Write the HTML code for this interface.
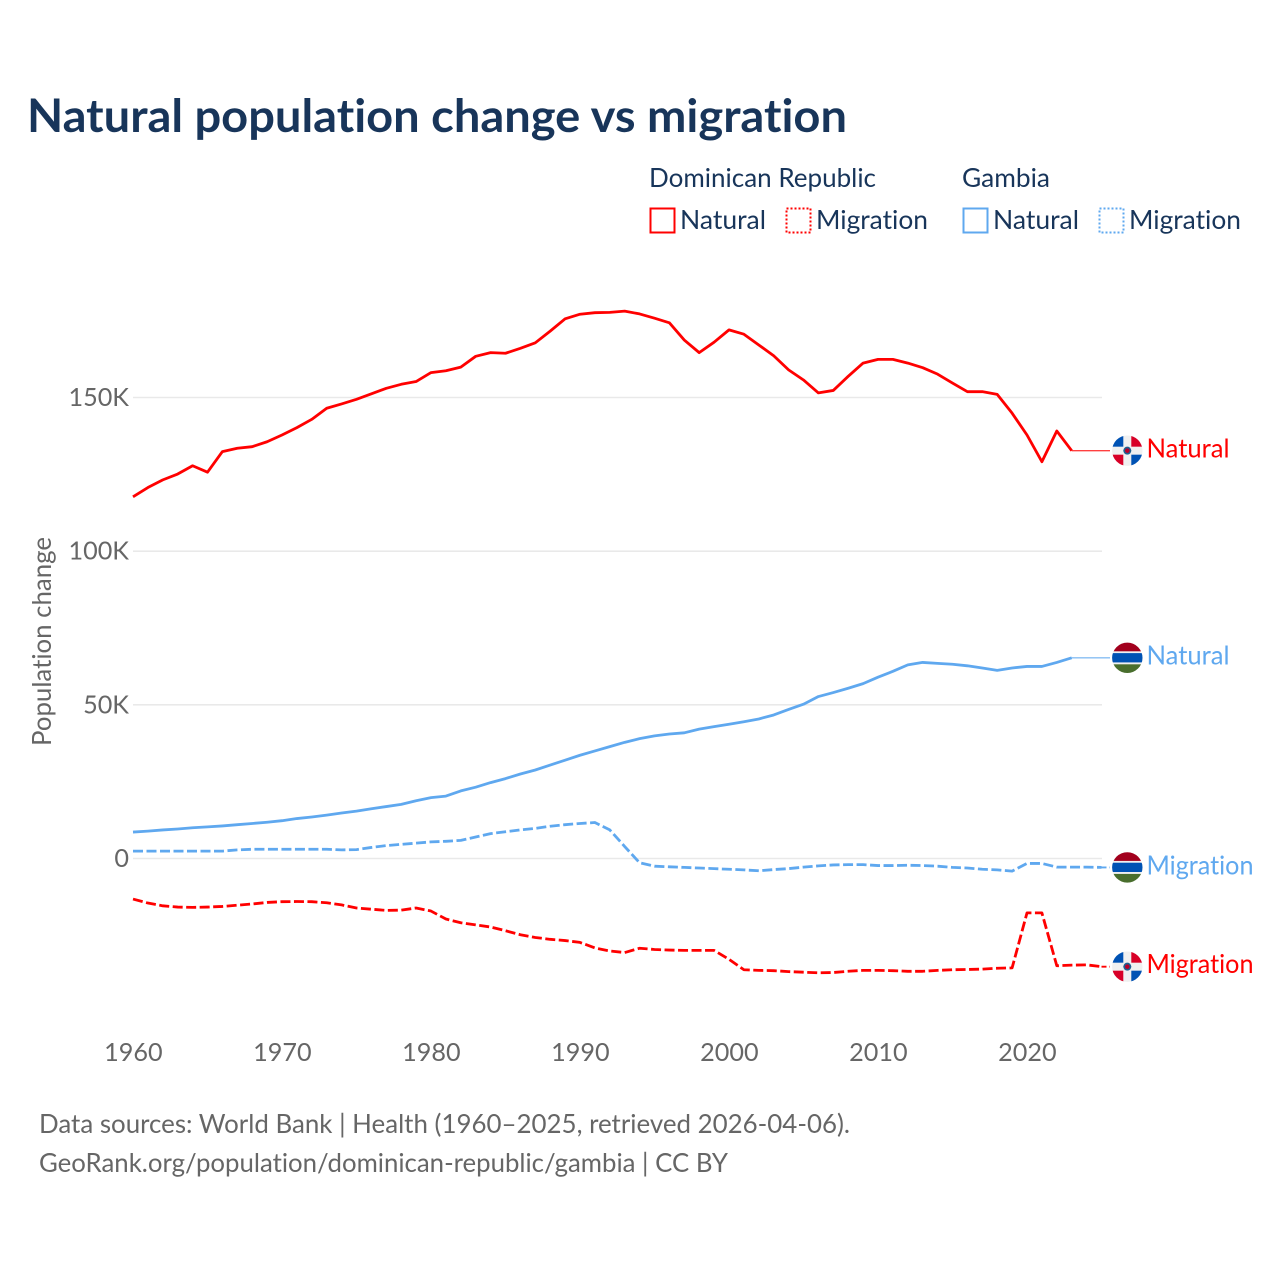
<!DOCTYPE html>
<html lang="en">
<head>
<meta charset="utf-8">
<title>Natural population change vs migration</title>
<style>
html,body{margin:0;padding:0;background:#fff;width:1280px;height:1280px;overflow:hidden}
svg{display:block}
text{font-family:"Lato","Liberation Sans",sans-serif;font-variant-ligatures:none;font-feature-settings:"liga" 0,"clig" 0}
</style>
</head>
<body>
<svg id="chart" xmlns="http://www.w3.org/2000/svg" width="1280" height="1280" viewBox="0 0 1280 1280">
  <defs>
    <clipPath id="flag-clip"><circle cx="0" cy="0" r="15.2"/></clipPath>
    <g id="flag-dr" clip-path="url(#flag-clip)">
      <rect x="-16" y="-16" width="32" height="32" fill="#f0f0f0"/>
      <rect x="-16" y="-16" width="12" height="12" fill="#0052b4"/>
      <rect x="4" y="4" width="12" height="12" fill="#0052b4"/>
      <rect x="4" y="-16" width="12" height="12" fill="#d80027"/>
      <rect x="-16" y="4" width="12" height="12" fill="#d80027"/>
      <circle r="4" fill="#1f5f8f"/>
      <circle r="2.3" fill="#b8002a"/>
    </g>
    <g id="flag-gm" clip-path="url(#flag-clip)">
      <rect x="-16" y="-16" width="32" height="32" fill="#f0f0f0"/>
      <rect x="-16" y="-16" width="32" height="9.5" fill="#a2001d"/>
      <rect x="-16" y="-4.7" width="32" height="9.3" fill="#0052b4"/>
      <rect x="-16" y="6.5" width="32" height="10" fill="#496e2d"/>
    </g>
  </defs>

  <rect x="0" y="0" width="1280" height="1280" fill="#fff"/>
  <text x="27" y="132" font-size="46" font-weight="700" fill="#18355a" textLength="820" lengthAdjust="spacingAndGlyphs">Natural population change vs migration</text>

  <g font-size="26" fill="#18355a">
    <text x="649" y="187" textLength="227" lengthAdjust="spacingAndGlyphs">Dominican Republic</text>
    <text x="962" y="187" textLength="88" lengthAdjust="spacingAndGlyphs">Gambia</text>
    <rect x="650.5" y="208.5" width="24" height="24" fill="none" stroke="#ff0000" stroke-width="2"/>
    <text x="680" y="229" textLength="86" lengthAdjust="spacingAndGlyphs">Natural</text>
    <rect x="786.5" y="208.5" width="24" height="24" fill="none" stroke="#ff0000" stroke-width="2" stroke-dasharray="2 2"/>
    <text x="816" y="229" textLength="112" lengthAdjust="spacingAndGlyphs">Migration</text>
    <rect x="963.5" y="208.5" width="24" height="24" fill="none" stroke="#5fa8ef" stroke-width="2"/>
    <text x="993" y="229" textLength="86" lengthAdjust="spacingAndGlyphs">Natural</text>
    <rect x="1099.5" y="208.5" width="24" height="24" fill="none" stroke="#5fa8ef" stroke-width="2" stroke-dasharray="2 2"/>
    <text x="1129" y="229" textLength="112" lengthAdjust="spacingAndGlyphs">Migration</text>
  </g>

  <g id="grid"></g>
  <g id="ylabels"></g>
  <g id="xlabels"></g>
  <text transform="translate(51,746) rotate(-90)" font-size="26" fill="#666" textLength="209" lengthAdjust="spacingAndGlyphs">Population change</text>
  <g id="series"></g>
  <g id="ends"></g>

  <text x="39" y="1133" font-size="26" fill="#666" textLength="811" lengthAdjust="spacingAndGlyphs">Data sources: World Bank | Health (1960–2025, retrieved 2026-04-06).</text>
  <text x="39" y="1172" font-size="26" fill="#666" textLength="689" lengthAdjust="spacingAndGlyphs">GeoRank.org/population/dominican-republic/gambia | CC BY</text>
</svg>

<script>
const startYear = 1960;
const xTickYears = [1960, 1970, 1980, 1990, 2000, 2010, 2020];
const yTickValues = [0, 50, 100, 150];
const yTickLabels = ["0", "50K", "100K", "150K"];

// Values in thousands, one per year from 1960.
const drNatural = [
  117.7,120.7,123.2,125.1,127.8,125.7,132.4,133.5,134.0,135.6,
  137.8,140.2,142.9,146.5,147.9,149.4,151.2,153.0,154.3,155.2,
  158.1,158.7,159.9,163.4,164.6,164.4,166.0,167.8,171.6,175.6,
  177.1,177.6,177.7,178.1,177.2,175.8,174.3,168.7,164.6,168.0,
  172.0,170.6,167.1,163.6,159.0,155.7,151.5,152.3,156.9,161.2,
  162.4,162.4,161.2,159.7,157.6,154.7,151.9,151.9,151.0,144.9,
  137.8,129.1,139.1,132.7
];
const gambiaNatural = [
  8.6,8.9,9.3,9.6,10.0,10.3,10.6,11.0,11.4,11.8,
  12.3,13.0,13.5,14.1,14.8,15.4,16.2,16.9,17.6,18.8,
  19.8,20.3,22.0,23.2,24.7,26.0,27.5,28.8,30.4,32.0,
  33.6,35.0,36.4,37.8,39.0,39.9,40.5,40.9,42.1,42.9,
  43.7,44.5,45.4,46.7,48.5,50.2,52.7,54.0,55.4,56.9,
  59.0,60.9,63.0,63.8,63.5,63.2,62.7,62.0,61.2,62.0,
  62.5,62.5,63.8,65.3
];
const drMigration = [
  -13.2,-14.5,-15.4,-15.8,-15.9,-15.8,-15.6,-15.2,-14.8,-14.3,
  -14.05,-14.0,-14.05,-14.4,-15.1,-16.1,-16.5,-16.9,-16.8,-16.1,
  -17.1,-19.7,-20.9,-21.6,-22.3,-23.5,-24.8,-25.7,-26.3,-26.7,
  -27.3,-29.1,-30.1,-30.6,-29.2,-29.6,-29.8,-29.9,-29.9,-29.9,
  -32.8,-36.2,-36.4,-36.5,-36.8,-37.0,-37.2,-37.1,-36.7,-36.4,
  -36.4,-36.5,-36.7,-36.7,-36.4,-36.2,-36.1,-36.0,-35.7,-35.6,
  -17.7,-17.7,-34.9,-34.7,-34.6,-35.2
];
const gambiaMigration = [
  2.4,2.4,2.4,2.4,2.4,2.4,2.4,2.8,3.0,3.0,
  3.0,3.0,3.0,3.0,2.8,2.9,3.6,4.2,4.6,5.0,
  5.4,5.6,5.9,7.0,8.1,8.7,9.3,9.8,10.5,11.0,
  11.4,11.7,9.3,3.9,-1.4,-2.5,-2.7,-2.9,-3.1,-3.3,
  -3.5,-3.7,-4.0,-3.6,-3.3,-2.8,-2.4,-2.1,-2.0,-2.0,
  -2.3,-2.3,-2.2,-2.3,-2.5,-2.9,-3.1,-3.5,-3.7,-4.1,
  -1.6,-1.6,-2.8,-2.8,-2.8,-2.9
];

const RED = "#ff0000";
const BLUE = "#5fa8ef";
const SVGNS = "http://www.w3.org/2000/svg";
const xScale = function (year) { return 133 + (year - 1960) * 14.9; };
const yScale = function (v) { return 858.5 - v * 3.0733; };

function mk(tag, parent, attrs) {
  const el = document.createElementNS(SVGNS, tag);
  for (const k in attrs) el.setAttribute(k, attrs[k]);
  parent.appendChild(el);
  return el;
}

const grid = document.getElementById("grid");
const ylabels = document.getElementById("ylabels");
const xlabels = document.getElementById("xlabels");
const seriesGroup = document.getElementById("series");
const ends = document.getElementById("ends");

yTickValues.forEach(function (v, i) {
  const line = mk("line", grid, { x1: 133, x2: 1102, y1: yScale(v), y2: yScale(v), stroke: "#e9e9e9", "stroke-width": 1.6 });
  
  
  const label = mk("text", ylabels, { x: 129, y: yScale(v) + 8.5, "text-anchor": "end", "font-size": 25.2, fill: "#666" });
  label.textContent = yTickLabels[i];
  
  
});

xTickYears.forEach(function (yr) {
  const label = mk("text", xlabels, { x: xScale(yr) + 0.4, y: 1061, "text-anchor": "middle", "font-size": 25.2, fill: "#666" });
  label.textContent = String(yr);
  
  
});

function drawSeries(values, color, dashed, flagId, word, labelWidth, labelOffset) {
  const pts = values.map(function (v, i) { return xScale(startYear + i).toFixed(2) + "," + yScale(v).toFixed(2); });
  const attrs = { points: pts.join(" "), fill: "none", stroke: color, "stroke-width": 2.8, "stroke-linejoin": "round" };
  if (dashed) attrs["stroke-dasharray"] = "10 3.5";
  const line = mk("polyline", seriesGroup, attrs);
  
  

  const lastV = values[values.length - 1];
  const lastX = xScale(startYear + values.length - 1);
  const lastY = yScale(lastV);
  const connAttrs = { x1: lastX, x2: 1110, y1: lastY, y2: lastY, stroke: color, "stroke-width": dashed ? 1.8 : 1.4, "stroke-opacity": dashed ? 1 : 0.75 };
  if (dashed) connAttrs["stroke-dasharray"] = "5 3";
  const conn = mk("line", ends, connAttrs);
  
  

  const flag = mk("use", ends, { href: "#" + flagId, transform: "translate(1127.3," + lastY + ")" });
  
  

  const label = mk("text", ends, { x: 1146.5, y: lastY + labelOffset, "font-size": 26, fill: color, textLength: labelWidth, lengthAdjust: "spacingAndGlyphs" });
  label.textContent = word;
  
  
}

drawSeries(drNatural, RED, false, "flag-dr", "Natural", 83, 7);
drawSeries(gambiaNatural, BLUE, false, "flag-gm", "Natural", 83, 6.5);
drawSeries(gambiaMigration, BLUE, true, "flag-gm", "Migration", 107, 7);
drawSeries(drMigration, RED, true, "flag-dr", "Migration", 107, 6.5);
</script>
</body>
</html>
